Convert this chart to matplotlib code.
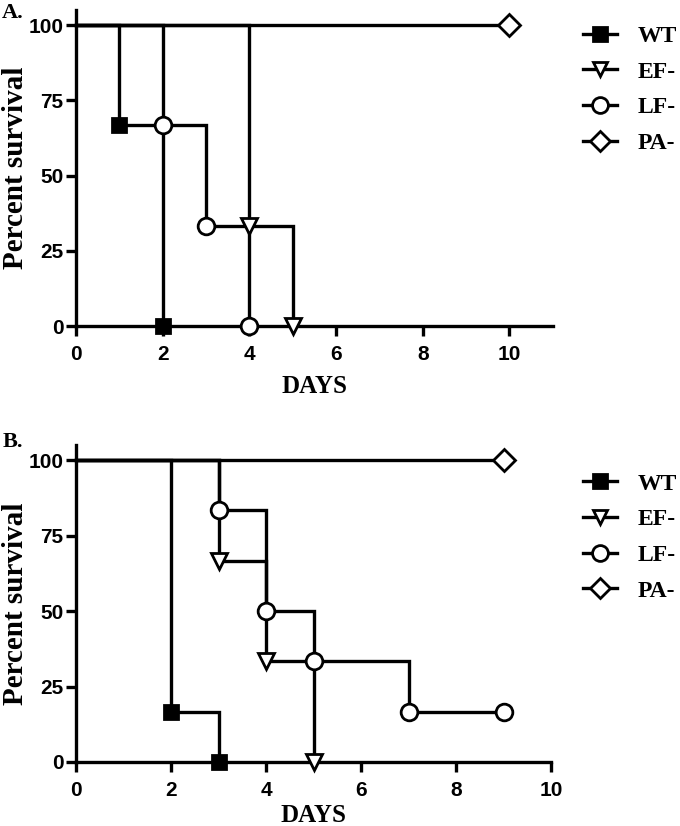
import matplotlib
matplotlib.use('Agg')
import matplotlib.pyplot as plt
from matplotlib.lines import Line2D

# ---- data ----
groups = ['WT', 'EF-', 'LF-', 'PA-']

# panel A: event days and percent survival after each event
a_days = {'WT': [1, 2], 'EF-': [4, 5], 'LF-': [2, 3, 4], 'PA-': [10]}
a_surv = {'WT': [66.7, 0], 'EF-': [33.3, 0], 'LF-': [66.7, 33.3, 0], 'PA-': [100]}

# panel B
b_days = {'WT': [2, 3], 'EF-': [3, 4, 5], 'LF-': [3, 4, 5, 7, 9], 'PA-': [9]}
b_surv = {'WT': [16.7, 0], 'EF-': [66.7, 33.3, 0],
          'LF-': [83.3, 50, 33.3, 16.7, 16.7], 'PA-': [100]}

y_ticks = [0, 25, 50, 75, 100]
x_ticks = [0, 2, 4, 6, 8, 10]

# marker styles per group
style = {
    'WT':  dict(marker='s', mfc='black', ms=10),
    'EF-': dict(marker='v', mfc='white', ms=11),
    'LF-': dict(marker='o', mfc='white', ms=12),
    'PA-': dict(marker='D', mfc='white', ms=11),
}

LW = 2.4
sans = 'Liberation Sans'
serif = 'Liberation Serif'

fig = plt.figure(figsize=(6.8, 8.26), dpi=100)
axA = fig.add_axes([0.1118, 0.6053, 0.701, 0.3826])
axB = fig.add_axes([0.1118, 0.0775, 0.6985, 0.3838])


def draw(ax, days, surv, xmax, label, label_y, legend_y, xpad):
    for g in groups:
        xs = [0] + days[g]
        ys = [100] + surv[g]
        ax.plot(xs, ys, drawstyle='steps-post', color='black', lw=LW,
                solid_joinstyle='miter', zorder=3, clip_on=False)
        st = style[g]
        ax.plot(days[g], surv[g], ls='none', marker=st['marker'], ms=st['ms'],
                mfc=st['mfc'], mec='black', mew=2, zorder=4, clip_on=False)
    ax.set_xlim(0, xmax)
    ax.set_ylim(0, 105)
    ax.set_xticks(x_ticks)
    ax.set_yticks(y_ticks)
    for s in ['top', 'right']:
        ax.spines[s].set_visible(False)
    for s in ['left', 'bottom']:
        ax.spines[s].set_linewidth(LW)
    ax.tick_params(axis='both', direction='out', length=7.5, width=LW)
    ax.tick_params(axis='x', pad=6)
    ax.tick_params(axis='y', pad=1.5)
    for t in ax.get_xticklabels() + ax.get_yticklabels():
        t.set_fontfamily(sans)
        t.set_fontweight('bold')
        t.set_fontsize(15)
    ax.set_xlabel('DAYS', fontfamily=serif, fontweight='bold', fontsize=18, labelpad=xpad)
    ax.set_ylabel('Percent survival', fontfamily=serif, fontweight='bold', fontsize=21, labelpad=0)
    ax.text(-0.155, label_y, label, transform=ax.transAxes, fontfamily=serif,
            fontweight='bold', fontsize=16, ha='left', va='center')

    handles = []
    for g in groups:
        st = style[g]
        handles.append(Line2D([], [], color='black', lw=LW, marker=st['marker'],
                              ms=st['ms'] * 0.95, mfc=st['mfc'], mec='black', mew=2))
    fig.legend(handles, groups, loc='upper left',
               bbox_to_anchor=(0.826, legend_y), frameon=False,
               prop=dict(family=serif, weight='bold', size=17),
               handlelength=1.45, handletextpad=0.85, labelspacing=0.6)


draw(axA, a_days, a_surv, 11, 'A.', 0.99, 0.995, 8)
draw(axB, b_days, b_surv, 10, 'B.', 1.01, 0.453, 3)

fig.savefig('out.png', dpi=100)
